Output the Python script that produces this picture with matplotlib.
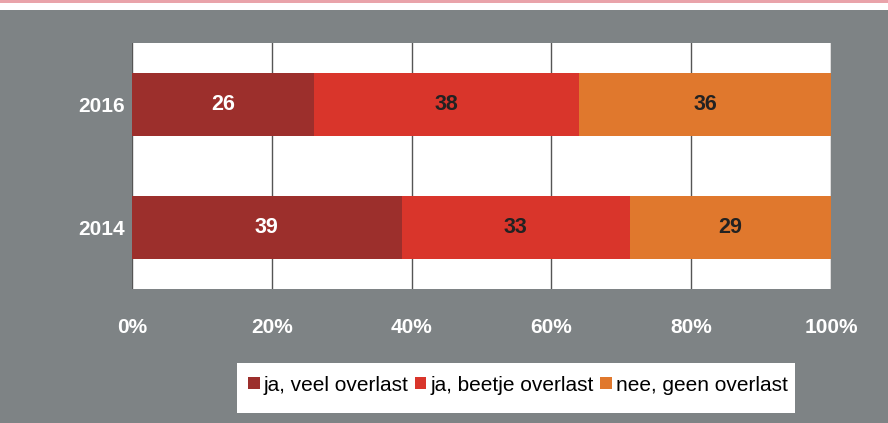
import matplotlib.pyplot as plt
import numpy as np
from matplotlib.patches import Rectangle

# data
jaren = ['2014', '2016']
veel = [38.6, 26]
beetje = [32.6, 38]
geen = [28.8, 36]
reeksen = ['ja, veel overlast', 'ja, beetje overlast', 'nee, geen overlast']
kleuren = ['#9c2f2c', '#d9352b', '#e0782d']
tekstkleur = ['white', '#222222', '#222222']
ticks = [0, 20, 40, 60, 80, 100]

plt.rcParams['font.family'] = ['Liberation Sans', 'DejaVu Sans']

fig = plt.figure(figsize=(8.88, 4.23), dpi=100)
fig.patch.set_facecolor('#7e8385')

# witte strook met rode lijn bovenaan
fig.patches.append(Rectangle((0, 1 - 10 / 423), 1, 10 / 423, transform=fig.transFigure,
                             facecolor='white', edgecolor='none', zorder=0))
fig.patches.append(Rectangle((0, 1 - 3 / 423), 1, 3 / 423, transform=fig.transFigure,
                             facecolor='#e9a3aa', edgecolor='none', zorder=0))
# wit vak achter de legenda
fig.patches.append(Rectangle((237 / 888, 1 - 413 / 423), 558 / 888, 50 / 423,
                             transform=fig.transFigure, facecolor='white',
                             edgecolor='none', zorder=0))

ax = fig.add_axes([132 / 888, 1 - 289 / 423, 699 / 888, 246 / 423])
ax.set_facecolor('white')

y = np.arange(len(jaren))
links = np.zeros(len(jaren))
for waarden, naam, kleur, tk in zip([veel, beetje, geen], reeksen, kleuren, tekstkleur):
    bars = ax.barh(y, waarden, left=links, height=0.51, color=kleur, label=naam, zorder=3)
    for i, v in enumerate(waarden):
        ax.text(links[i] + v / 2, y[i], f"{v:.0f}", ha='center', va='center',
                color=tk, fontsize=15.5, fontweight='bold', zorder=4)
    links = links + np.array(waarden)

ax.set_xlim(0, 100)
ax.set_ylim(-0.5, 1.5)
ax.set_xticks(ticks)
ax.set_xticklabels([f"{t}%" for t in ticks])
ax.set_yticks(y)
ax.set_yticklabels(jaren)
for s in ax.spines.values():
    s.set_visible(False)
ax.tick_params(length=0, colors='white', labelsize=15)
ax.tick_params(axis='x', pad=21)
ax.tick_params(axis='y', pad=5)
for lbl in ax.get_xticklabels() + ax.get_yticklabels():
    lbl.set_fontweight('bold')
ax.xaxis.grid(True, color='#555555', linewidth=1, zorder=1)
ax.set_axisbelow(True)

leg = fig.legend(loc='center', bbox_to_anchor=(518 / 888, 1 - 385 / 423), ncol=3,
                 fontsize=15, frameon=False, handlelength=0.55,
                 handleheight=0.55, handletextpad=0.2, columnspacing=0.3,
                 borderpad=0, borderaxespad=0)

fig.savefig('out.png', dpi=100, facecolor=fig.get_facecolor())
